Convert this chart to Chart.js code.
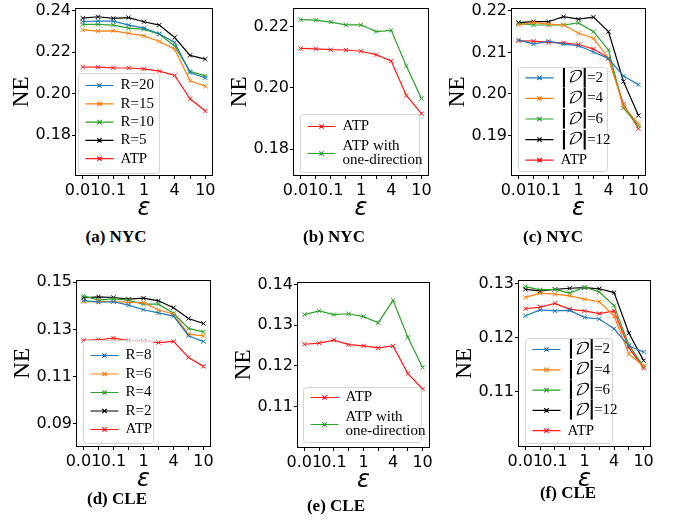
<!DOCTYPE html>
<html>
<head>
<meta charset="utf-8">
<script src="https://cdn.jsdelivr.net/npm/chart.js@4.4.1/dist/chart.umd.min.js"></script>
<style>
body { margin: 0; background: #fff; width: 673px; height: 521px; position: relative; overflow: hidden; }
canvas { position: absolute; }
.cap { position: absolute; font: bold 17px 'Liberation Serif', serif; transform: translate(-50%, -50%); white-space: nowrap; color: #000; }
</style>
</head>
<body>
<canvas id="ca"></canvas>
<canvas id="cb"></canvas>
<canvas id="cc"></canvas>
<canvas id="cd"></canvas>
<canvas id="ce"></canvas>
<canvas id="cf"></canvas>
<div class="cap" style="left:116px;top:237px">(a) NYC</div>
<div class="cap" style="left:334px;top:237px">(b) NYC</div>
<div class="cap" style="left:553px;top:237px">(c) NYC</div>
<div class="cap" style="left:117px;top:499px">(d) CLE</div>
<div class="cap" style="left:336px;top:506px">(e) CLE</div>
<div class="cap" style="left:568px;top:493px">(f) CLE</div>
<script>
// privacy budget epsilon (x categories) and the ones that get a label
const eps = ['0.01', '0.05', '0.1', '0.5', '1', '2', '4', '6', '10'];
const epsShown = ['0.01', '0.1', '1', '4', '10'];

// NYC
const nycATP    = [0.2128, 0.2127, 0.2124, 0.2123, 0.2119, 0.2108, 0.2087, 0.1975, 0.1916];
const nycR20    = [0.2347, 0.2349, 0.2349, 0.2330, 0.2315, 0.2288, 0.2246, 0.2101, 0.2075];
const nycR15    = [0.2307, 0.2301, 0.2302, 0.2290, 0.2278, 0.2251, 0.2214, 0.2062, 0.2035];
const nycR10    = [0.2333, 0.2333, 0.2330, 0.2315, 0.2309, 0.2286, 0.2229, 0.2107, 0.2085];
const nycR5     = [0.2363, 0.2370, 0.2362, 0.2366, 0.2346, 0.2330, 0.2270, 0.2184, 0.2166];
const nycOneDir = [0.2222, 0.2220, 0.2214, 0.2205, 0.2205, 0.2183, 0.2187, 0.2071, 0.1965];
const nycD2     = [0.2130, 0.2120, 0.2127, 0.2120, 0.2116, 0.2101, 0.2085, 0.2043, 0.2022];
const nycD4     = [0.2166, 0.2172, 0.2168, 0.2166, 0.2146, 0.2134, 0.2086, 0.1970, 0.1928];
const nycD6     = [0.2170, 0.2166, 0.2166, 0.2166, 0.2171, 0.2150, 0.2106, 0.1966, 0.1923];
const nycD12    = [0.2172, 0.2174, 0.2174, 0.2186, 0.2180, 0.2185, 0.2150, 0.2030, 0.1948];

// CLE
const cleATP    = [0.1253, 0.1256, 0.1263, 0.1252, 0.1249, 0.1244, 0.1249, 0.1181, 0.1143];
const cleR8     = [0.1423, 0.1415, 0.1417, 0.1403, 0.1383, 0.1370, 0.1356, 0.1273, 0.1248];
const cleR6     = [0.1417, 0.1418, 0.1418, 0.1414, 0.1413, 0.1382, 0.1365, 0.1280, 0.1272];
const cleR4     = [0.1442, 0.1424, 0.1430, 0.1423, 0.1407, 0.1407, 0.1368, 0.1304, 0.1289];
const cleR2     = [0.1434, 0.1438, 0.1435, 0.1428, 0.1432, 0.1421, 0.1392, 0.1346, 0.1325];
const cleOneDir = [0.1326, 0.1335, 0.1326, 0.1328, 0.1321, 0.1306, 0.1361, 0.1270, 0.1196];
const cleD2     = [0.1240, 0.1251, 0.1249, 0.1250, 0.1237, 0.1234, 0.1216, 0.1184, 0.1173];
const cleD4     = [0.1274, 0.1282, 0.1280, 0.1277, 0.1271, 0.1266, 0.1240, 0.1169, 0.1147];
const cleD6     = [0.1294, 0.1288, 0.1289, 0.1282, 0.1293, 0.1284, 0.1259, 0.1186, 0.1146];
const cleD12    = [0.1289, 0.1286, 0.1289, 0.1291, 0.1292, 0.1290, 0.1283, 0.1208, 0.1157];

// y tick labels per panel
const ticksA = [0.18, 0.20, 0.22, 0.24];
const ticksB = [0.18, 0.20, 0.22];
const ticksC = [0.19, 0.20, 0.21, 0.22];
const ticksD = [0.09, 0.11, 0.13, 0.15];
const ticksE = [0.11, 0.12, 0.13, 0.14];
const ticksF = [0.11, 0.12, 0.13];

const BLUE = '#1f77b4', ORANGE = '#ff7f0e', GREEN = '#2ca02c', BLACK = '#000000', RED = '#ff1a1a';

const YW = 71, XH = 47, PT = 10, PR = 12;

// full black box round the plot area
const frame = {
  id: 'frame',
  afterDraw(c) {
    const a = c.chartArea, ctx = c.ctx;
    ctx.save();
    ctx.strokeStyle = '#000';
    ctx.lineWidth = 1;
    const l = Math.round(a.left) + 0.5, t = Math.round(a.top) + 0.5;
    const r = Math.round(a.right) - 0.5, b = Math.round(a.bottom) - 0.5;
    ctx.strokeRect(l, t, r - l, b - t);
    ctx.restore();
  }
};

function drawLabel(ctx, text, x, y) {
  // '|' drawn as the big math bars, D as script D
  let cx = x;
  text.split(/(\||𝒟)/).forEach(p => {
    if (!p) return;
    if (p === '|') ctx.font = 'bold 19px "DejaVu Sans"';
    else if (p === '𝒟') ctx.font = 'italic 16px "DejaVu Math TeX Gyre", "DejaVu Serif", serif';
    else ctx.font = '15px "Liberation Serif", serif';
    ctx.fillText(p, cx, y);
    cx += ctx.measureText(p).width - (p === '|' ? 1 : 0);
  });
}

// matplotlib-like legend box inside the axes
const boxLegend = {
  id: 'boxLegend',
  afterDraw(c, args, o) {
    if (!o || !o.width) return;
    const a = c.chartArea, ctx = c.ctx;
    const x0 = Math.round(a.left + o.left) + 0.5, y0 = Math.round(a.top + o.top) + 0.5;
    ctx.save();
    ctx.fillStyle = 'rgba(255,255,255,0.8)';
    ctx.strokeStyle = '#d4d4d4';
    ctx.lineWidth = 1;
    ctx.beginPath();
    ctx.roundRect(x0, y0, o.width, o.height, 3);
    ctx.fill();
    ctx.stroke();
    ctx.textBaseline = 'middle';
    ctx.fillStyle = '#000';
    c.data.datasets.forEach((ds, i) => {
      const yc = y0 + (o.rowY ? o.rowY[i] : o.first + i * o.step);
      const lx0 = x0 + 7, lx1 = x0 + 35, mx = (lx0 + lx1) / 2;
      ctx.strokeStyle = ds.borderColor;
      ctx.lineWidth = 1.2;
      ctx.beginPath();
      ctx.moveTo(lx0, yc); ctx.lineTo(lx1, yc);
      ctx.moveTo(mx - 2.2, yc - 2.2); ctx.lineTo(mx + 2.2, yc + 2.2);
      ctx.moveTo(mx - 2.2, yc + 2.2); ctx.lineTo(mx + 2.2, yc - 2.2);
      ctx.stroke();
      const lines = ds.label.split('\n');
      lines.forEach((ln, j) => {
        drawLabel(ctx, ln, x0 + 42, yc + (j - (lines.length - 1) / 2) * 14);
      });
    });
    ctx.restore();
  }
};

function panel(id, box, yMin, yMax, yTicks, series, legend) {
  const cv = document.getElementById(id);
  const [L, T, R, B] = box;
  cv.width = R - L + YW + PR;
  cv.height = B - T + PT + XH;
  cv.style.left = (L - YW) + 'px';
  cv.style.top = (T - PT) + 'px';
  const tickGrid = { display: true, drawOnChartArea: false, drawTicks: true, tickLength: 3, color: '#000', tickWidth: 1 };
  new Chart(cv, {
    type: 'line',
    data: {
      labels: eps,
      datasets: series.map(s => ({
        label: s.label, data: s.data,
        borderColor: s.color, backgroundColor: s.color,
        borderWidth: 1.2, pointStyle: 'crossRot', pointRadius: 3, pointBorderWidth: 1, tension: 0
      }))
    },
    options: {
      responsive: false,
      animation: false,
      devicePixelRatio: 1,
      layout: { padding: { top: PT, right: PR, left: 0, bottom: 0 } },
      plugins: { legend: { display: false }, tooltip: { enabled: false }, boxLegend: legend },
      scales: {
        x: {
          type: 'category',
          offset: true,
          grid: tickGrid,
          border: { display: false },
          ticks: {
            color: '#000', font: { family: 'DejaVu Sans', size: 16 }, padding: 2,
            maxRotation: 0, minRotation: 0, autoSkip: false,
            callback: (v, i) => epsShown.includes(eps[i]) ? eps[i] : ''
          },
          title: { display: true, text: 'ε', color: '#000', padding: 0,
                   font: { family: 'DejaVu Sans', size: 24, style: 'italic' } },
          afterFit: s => { s.height = XH; }
        },
        y: {
          min: yMin, max: yMax,
          grid: tickGrid,
          border: { display: false },
          afterBuildTicks: s => { s.ticks = yTicks.map(v => ({ value: v })); },
          ticks: { color: '#000', font: { family: 'DejaVu Sans', size: 16 }, padding: 1,
                   callback: v => Number(v).toFixed(2) },
          title: { display: true, text: 'NE', color: '#000', padding: { top: 4, bottom: 0 },
                   font: { family: 'Liberation Serif', size: 23 } },
          afterFit: s => { s.width = YW; }
        }
      }
    },
    plugins: [frame, boxLegend]
  });
}

panel('ca', [75, 7, 213, 176], 0.1603, 0.2414, ticksA, [
  { label: 'R=20', data: nycR20, color: BLUE },
  { label: 'R=15', data: nycR15, color: ORANGE },
  { label: 'R=10', data: nycR10, color: GREEN },
  { label: 'R=5', data: nycR5, color: BLACK },
  { label: 'ATP', data: nycATP, color: RED }
], { left: 3, top: 65, width: 81, height: 100, first: 12, step: 18.3 });

panel('cb', [293, 7, 429, 176], 0.1713, 0.2261, ticksB, [
  { label: 'ATP', data: nycATP, color: RED },
  { label: 'ATP with\none-direction', data: nycOneDir, color: GREEN }
], { left: 7, top: 106, width: 119, height: 58, rowY: [12, 39] });

panel('cc', [511, 7, 646, 176], 0.1802, 0.2208, ticksC, [
  { label: '|𝒟|=2', data: nycD2, color: BLUE },
  { label: '|𝒟|=4', data: nycD4, color: ORANGE },
  { label: '|𝒟|=6', data: nycD6, color: GREEN },
  { label: '|𝒟|=12', data: nycD12, color: BLACK },
  { label: 'ATP', data: nycATP, color: RED }
], { left: 7, top: 59, width: 89, height: 104, first: 10.3, step: 20.6 });

panel('cd', [76, 279, 211, 447], 0.0801, 0.1511, ticksD, [
  { label: 'R=8', data: cleR8, color: BLUE },
  { label: 'R=6', data: cleR6, color: ORANGE },
  { label: 'R=4', data: cleR4, color: GREEN },
  { label: 'R=2', data: cleR2, color: BLACK },
  { label: 'ATP', data: cleATP, color: RED }
], { left: 7, top: 60, width: 70, height: 103, first: 15, step: 18.5 });

panel('ce', [297, 281, 430, 448], 0.0998, 0.1407, ticksE, [
  { label: 'ATP', data: cleATP, color: RED },
  { label: 'ATP with\none-direction', data: cleOneDir, color: GREEN }
], { left: 6, top: 105, width: 118, height: 55, rowY: [10, 37] });

panel('cf', [518, 279, 651, 447], 0.0997, 0.1307, ticksF, [
  { label: '|𝒟|=2', data: cleD2, color: BLUE },
  { label: '|𝒟|=4', data: cleD4, color: ORANGE },
  { label: '|𝒟|=6', data: cleD6, color: GREEN },
  { label: '|𝒟|=12', data: cleD12, color: BLACK },
  { label: 'ATP', data: cleATP, color: RED }
], { left: 7, top: 58, width: 87, height: 105, first: 11, step: 20.3 });
</script>
</body>
</html>
